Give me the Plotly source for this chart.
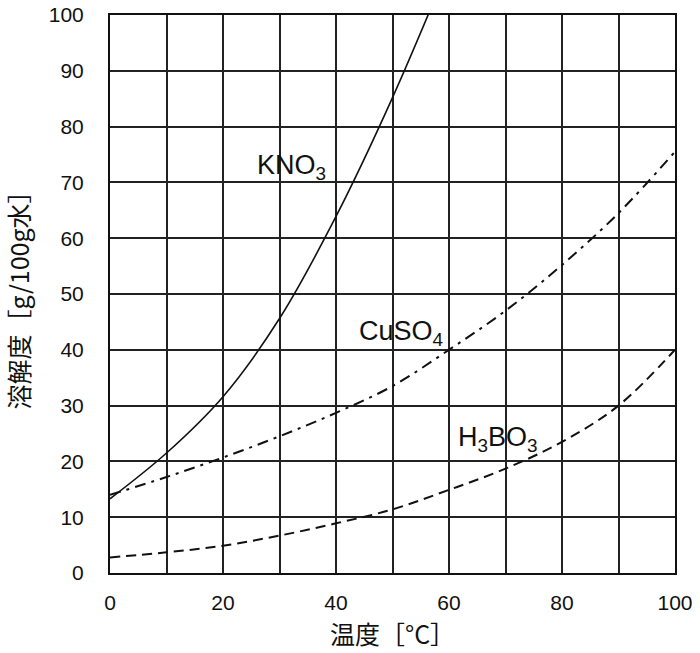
import plotly.graph_objects as go

temps = [0, 10, 20, 30, 40, 50, 60, 70, 80, 90, 100]
kno3_t = [0, 10, 20, 30, 40, 50, 60]
kno3 = [13.3, 21.5, 31.6, 45.6, 63.9, 85.2, 109.0]
cuso4 = [14.0, 17.2, 20.7, 24.5, 28.7, 33.5, 40.0, 47.0, 55.2, 64.5, 75.5]
h3bo3 = [2.8, 3.7, 4.9, 6.7, 8.9, 11.4, 14.9, 18.7, 23.5, 30.0, 40.0]

labels = ["KNO<sub>3</sub>", "CuSO<sub>4</sub>", "H<sub>3</sub>BO<sub>3</sub>"]
label_x = [32.1, 51.5, 68.7]
label_y = [72.8, 43.0, 24.0]

x_ticks = [0, 20, 40, 60, 80, 100]
y_ticks = [0, 10, 20, 30, 40, 50, 60, 70, 80, 90, 100]

fig = go.Figure()
fig.add_trace(go.Scatter(x=kno3_t, y=kno3, mode="lines", line=dict(color="#111", width=1.6, shape="spline"), showlegend=False))
fig.add_trace(go.Scatter(x=temps, y=cuso4, mode="lines", line=dict(color="#111", width=2, shape="spline", dash="11px,6px,3px,6px"), showlegend=False))
fig.add_trace(go.Scatter(x=temps, y=h3bo3, mode="lines", line=dict(color="#111", width=2, shape="spline", dash="10px,6px"), showlegend=False))

for t, lx, ly in zip(labels, label_x, label_y):
    fig.add_annotation(x=lx, y=ly, text=t, showarrow=False,
                       font=dict(family="Liberation Sans, Arial", size=27, color="#111"))

fig.update_layout(
    width=700, height=653,
    margin=dict(l=110, r=25, t=15, b=80),
    paper_bgcolor="white", plot_bgcolor="white",
    font=dict(family="Liberation Sans, Arial", color="#111"),
)
fig.update_xaxes(range=[0, 100], tickvals=x_ticks, automargin=False,
                 showgrid=True, gridcolor="#222", gridwidth=1.5,
                 showline=True, linecolor="#111", linewidth=2, mirror=True,
                 ticks="", ticklabelstandoff=10, tickfont=dict(size=21),
                 zeroline=False,
                 title=dict(text="温度［°C］", font=dict(family="Noto Sans CJK JP", size=25), standoff=13),
                 minor=dict(dtick=10, showgrid=True, gridcolor="#222", gridwidth=1.5))
fig.update_yaxes(range=[0, 100], tickvals=y_ticks, automargin=False,
                 showgrid=True, gridcolor="#222", gridwidth=1.5,
                 showline=True, linecolor="#111", linewidth=2, mirror=True,
                 ticks="", ticklabelstandoff=20, tickfont=dict(size=21),
                 zeroline=False,
                 title=dict(text="溶解度［g/100g水］", font=dict(family="Noto Sans CJK JP", size=25), standoff=17))

fig.write_html("out.html", config={"displayModeBar": False},
               post_script="document.body.style.margin='0';")
